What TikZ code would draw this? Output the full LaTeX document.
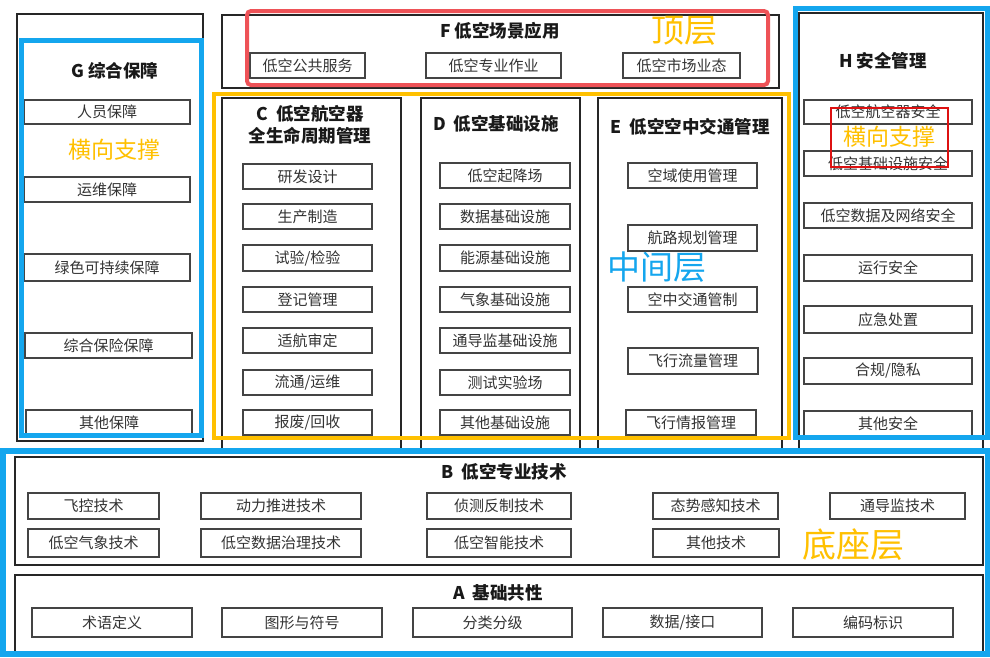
\documentclass[tikz,border=0pt]{standalone}
\usepackage{fontspec}
\setmainfont{Noto Sans CJK SC}
\definecolor{hlblue}{HTML}{14A6EE}
\definecolor{hlyellow}{HTML}{FFC000}
\definecolor{hlred}{HTML}{EE5257}
\definecolor{thinred}{HTML}{DD1111}
\definecolor{boxgray}{HTML}{444444}
\definecolor{txtgray}{HTML}{333333}
\tikzset{
  item/.style={draw=boxgray, line width=1.3pt, text=txtgray, inner sep=0pt,
    font=\fontsize{15}{15}\selectfont},
  group/.style={draw=black!85, line width=1.8pt, inner sep=0pt},
  gtitle/.style={font=\bfseries\fontsize{17.5}{22}\selectfont, align=center, text=black!90, inner sep=0pt},
  hlbluebox/.style={draw=hlblue, line width=5pt},
  hlyellowbox/.style={draw=hlyellow, line width=4pt},
  bigtxt/.style={inner sep=0pt}
}
\newcommand\bx[7][item]{\node[#1, minimum width={(#5-#3)*1pt}, minimum height={(#6-#4)*1pt}] (#2) at ({(#3+#5)/2},{(#4+#6)/2}) {#7};}
\begin{document}
\begin{tikzpicture}[x=1pt,y=-1pt]
\useasboundingbox[fill=white] (0,0) rectangle (990,657);
% black group frames
\bx[group]{Gbox}{17}{14}{203}{441}{}
\bx[group]{Fbox}{222}{15}{779}{88}{}
\bx[group]{Cbox}{222}{98}{401}{449}{}
\bx[group]{Dbox}{421}{98}{580}{449}{}
\bx[group]{Ebox}{598}{98}{782}{449}{}
\bx[group]{Hbox}{799}{13}{983}{449}{}
\bx[group]{Bbox}{15}{457}{983}{565}{}
\bx[group]{Abox}{15}{575}{983}{652}{}
% titles
\node[gtitle] (Ft) at (500,31) {F 低空场景应用};
\node[gtitle] (Ct) at (310,125) {C\ \ 低空航空器\\全生命周期管理};
\node[gtitle] (Dt) at (496,124) {D\ \ 低空基础设施};
\node[gtitle] (Et) at (690,127) {E\ \ 低空空中交通管理};
\node[gtitle] (Ht) at (883,61) {H 安全管理};
\node[gtitle] (Gt) at (115,71) {G 综合保障};
\node[gtitle] (Bt) at (504,472) {B\ \ 低空专业技术};
\node[gtitle] (At) at (498,593) {A\ \ 基础共性};
% F items
\bx{F1}{250}{53}{365}{78}{低空公共服务}
\bx{F2}{426}{53}{561}{78}{低空专业作业}
\bx{F3}{623}{53}{740}{78}{低空市场业态}
% C items
\bx{C1}{243}{164}{372}{189}{研发设计}
\bx{C2}{243}{204}{372}{229}{生产制造}
\bx{C3}{243}{245}{372}{271}{试验/检验}
\bx{C4}{243}{287}{372}{312}{登记管理}
\bx{C5}{243}{328}{372}{353}{适航审定}
\bx{C6}{243}{370}{372}{395}{流通/运维}
\bx{C7}{243}{410}{372}{435}{报废/回收}
% D items
\bx{D1}{440}{163}{570}{188}{低空起降场}
\bx{D2}{440}{204}{570}{229}{数据基础设施}
\bx{D3}{440}{245}{570}{271}{能源基础设施}
\bx{D4}{440}{287}{570}{312}{气象基础设施}
\bx{D5}{440}{328}{570}{353}{通导监基础设施}
\bx{D6}{440}{370}{570}{395}{测试实验场}
\bx{D7}{440}{410}{570}{435}{其他基础设施}
% E items
\bx{E1}{628}{163}{757}{188}{空域使用管理}
\bx{E2}{628}{225}{757}{251}{航路规划管理}
\bx{E3}{628}{287}{757}{312}{空中交通管制}
\bx{E4}{628}{348}{758}{374}{飞行流量管理}
\bx{E5}{626}{410}{756}{435}{飞行情报管理}
% H items
\bx{H1}{804}{100}{972}{124}{低空航空器安全}
\bx{H2}{804}{151}{972}{176}{低空基础设施安全}
\bx{H3}{804}{203}{972}{228}{低空数据及网络安全}
\bx{H4}{804}{255}{972}{281}{运行安全}
\bx{H5}{804}{306}{972}{333}{应急处置}
\bx{H6}{804}{358}{972}{384}{合规/隐私}
\bx{H7}{804}{411}{972}{436}{其他安全}
% G items
\bx{G1}{24}{100}{190}{124}{人员保障}
\bx{G2}{24}{177}{190}{202}{运维保障}
\bx{G3}{24}{254}{190}{281}{绿色可持续保障}
\bx{G4}{25}{333}{192}{358}{综合保险保障}
\bx{G5}{26}{410}{192}{435}{其他保障}
% B items
\bx{B1}{28}{493}{159}{519}{飞控技术}
\bx{B2}{28}{529}{159}{557}{低空气象技术}
\bx{B3}{201}{493}{361}{519}{动力推进技术}
\bx{B4}{201}{529}{361}{557}{低空数据治理技术}
\bx{B5}{427}{493}{571}{519}{侦测反制技术}
\bx{B6}{427}{529}{571}{557}{低空智能技术}
\bx{B7}{653}{493}{778}{519}{态势感知技术}
\bx{B8}{653}{529}{779}{557}{其他技术}
\bx{B9}{830}{493}{965}{519}{通导监技术}
% A items
\bx{A1}{32}{608}{192}{637}{术语定义}
\bx{A2}{222}{608}{382}{637}{图形与符号}
\bx{A3}{413}{608}{572}{637}{分类分级}
\bx{A4}{603}{608}{762}{637}{数据/接口}
\bx{A5}{793}{608}{953}{637}{编码标识}
% highlight frames
\draw[hlred, line width=4pt, rounded corners=4pt] (247,11) rectangle (768,85);
\draw[hlyellowbox] (213.5,94) rectangle (789,438);
\draw[hlbluebox] (21.5,40) rectangle (201.5,435);
\draw[hlbluebox] (795,8) rectangle (987,437.5);
\draw[draw=hlblue, line width=6pt] (3,451) rectangle (987.5,653.5);
\draw[thinred, line width=1.2pt] (831,108) rectangle (948,167);
% annotation texts
\node[bigtxt, text=hlyellow, font=\fontsize{33}{33}\selectfont] (top) at (684,31) {顶层};
\node[bigtxt, text=hlblue, font=\fontsize{33}{33}\selectfont] (mid) at (657,267) {中间层};
\node[bigtxt, text=hlyellow, font=\fontsize{34}{34}\selectfont] (base) at (853,545) {底座层};
\node[bigtxt, text=hlyellow, font=\fontsize{23}{23}\selectfont] (sideL) at (114,150) {横向支撑};
\node[bigtxt, text=hlyellow, font=\fontsize{23}{23}\selectfont] (sideR) at (889,137) {横向支撑};
\end{tikzpicture}
\end{document}
